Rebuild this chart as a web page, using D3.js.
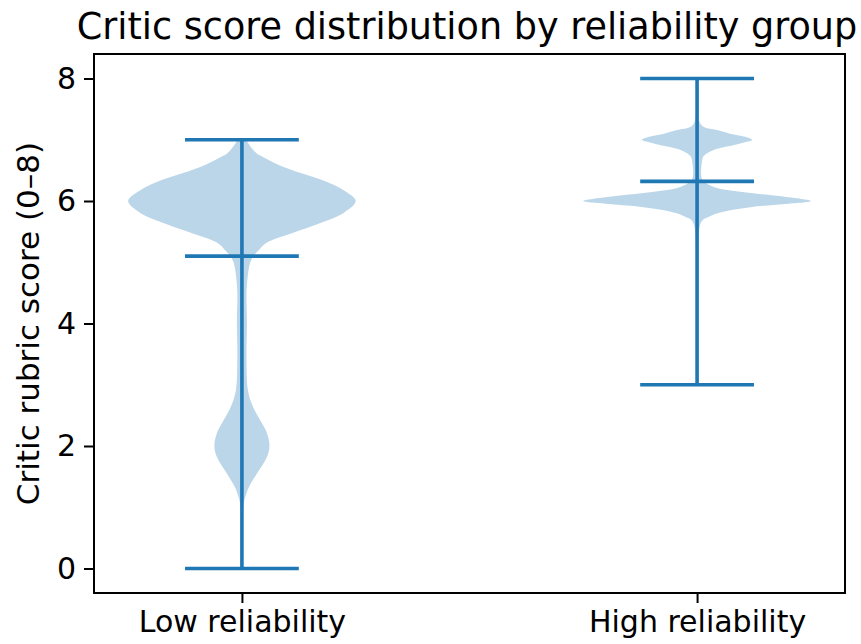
<!DOCTYPE html>
<html>
<head>
<meta charset="utf-8">
<script src="https://cdn.jsdelivr.net/npm/d3@7"></script>
<style>
  html, body { margin: 0; padding: 0; background: #fff; }
  svg { display: block; }
  text { font-family: "DejaVu Sans", sans-serif; fill: #000; }
</style>
</head>
<body>
<div id="chart"></div>
<script>
// Groups and their summary statistics
const groups = ["Low reliability", "High reliability"];
const scoreMin = [0, 3];
const scoreMax = [7, 8];
const scoreMean = [5.1, 6.32];

// Density profile of each group: score level and relative density (peak = 1)
const lowScores = [0.0, 0.5, 0.9, 1.1, 1.17, 1.33, 1.55, 1.82, 2.01, 2.21, 2.37, 2.64, 2.91, 3.45, 4.0, 4.5, 4.75, 4.98, 5.1, 5.2, 5.31, 5.48, 5.64, 5.8, 6.0, 6.18, 6.34, 6.5, 6.61, 6.72, 6.78, 6.94, 7.0];
const lowDensity = [0.0, 0.0, 0.005, 0.02, 0.03, 0.062, 0.132, 0.22, 0.242, 0.22, 0.176, 0.097, 0.053, 0.04, 0.044, 0.04, 0.05, 0.07, 0.1, 0.15, 0.21, 0.45, 0.69, 0.89, 1.0, 0.89, 0.71, 0.45, 0.3, 0.185, 0.128, 0.057, 0.04];

const highScores = [3.0, 3.5, 4.5, 5.3, 5.6, 5.69, 5.74, 5.8, 5.85, 5.9, 5.95, 6.0, 6.07, 6.13, 6.18, 6.23, 6.29, 6.35, 6.45, 6.6, 6.72, 6.78, 6.83, 6.88, 6.94, 7.0, 7.05, 7.1, 7.16, 7.21, 7.27, 7.4, 8.0];
const highDensity = [0.0, 0.003, 0.006, 0.01, 0.025, 0.05, 0.1, 0.18, 0.29, 0.47, 0.77, 1.0, 0.77, 0.47, 0.265, 0.147, 0.08, 0.045, 0.035, 0.04, 0.053, 0.088, 0.14, 0.24, 0.38, 0.485, 0.42, 0.29, 0.176, 0.06, 0.027, 0.01, 0.0];

const yTicks = [0, 2, 4, 6, 8];

const W = 861, H = 644;
const margin = { left: 94, right: 16, top: 54, bottom: 51 };
const violinWidth = 0.5;
const C0 = "#1f77b4";

const svg = d3.select("#chart").append("svg")
  .attr("width", W).attr("height", H);

const x = d3.scaleLinear().domain([0.675, 2.325]).range([margin.left, W - margin.right]);
const y = d3.scaleLinear().domain([-0.4, 8.4]).range([H - margin.bottom, margin.top]);

const profiles = [
  lowScores.map((s, i) => ({ s, d: lowDensity[i] })),
  highScores.map((s, i) => ({ s, d: highDensity[i] }))
];

// Violin bodies
profiles.forEach((prof, gi) => {
  const pos = gi + 1;
  const half = violinWidth / 2;
  const area = d3.area()
    .curve(d3.curveCatmullRom.alpha(0.5))
    .y(d => y(d.s))
    .x0(d => x(pos - d.d * half))
    .x1(d => x(pos + d.d * half));
  svg.append("path")
    .datum(prof)
    .attr("d", area)
    .attr("fill", C0)
    .attr("fill-opacity", 0.3)
    .attr("stroke", "none");
});

// Extremes, bars and means
const capHalf = violinWidth / 4;
groups.forEach((g, gi) => {
  const pos = gi + 1;
  const gLines = svg.append("g").attr("stroke", C0).attr("stroke-width", 3.6);
  gLines.append("line")
    .attr("x1", x(pos)).attr("x2", x(pos))
    .attr("y1", y(scoreMin[gi])).attr("y2", y(scoreMax[gi]));
  [scoreMin[gi], scoreMax[gi], scoreMean[gi]].forEach(v => {
    gLines.append("line")
      .attr("x1", x(pos - capHalf)).attr("x2", x(pos + capHalf))
      .attr("y1", y(v)).attr("y2", y(v));
  });
});

// Axes
const yAxis = d3.axisLeft(y).tickValues(yTicks).tickFormat(d3.format("d")).tickSize(10).tickPadding(8);
const xAxis = d3.axisBottom(x).tickValues([1, 2]).tickFormat((d, i) => groups[i]).tickSize(10).tickPadding(8);

const gy = svg.append("g").attr("transform", `translate(${margin.left},0)`).call(yAxis);
const gx = svg.append("g").attr("transform", `translate(0,${H - margin.bottom})`).call(xAxis);
[gy, gx].forEach(g => {
  g.select(".domain").remove();
  g.selectAll(".tick line").attr("stroke", "#000").attr("stroke-width", 2);
  g.selectAll(".tick text").attr("font-size", 30).attr("font-family", "DejaVu Sans").attr("fill", "#000");
});

// Frame
svg.append("rect")
  .attr("x", margin.left).attr("y", margin.top)
  .attr("width", W - margin.right - margin.left)
  .attr("height", H - margin.bottom - margin.top)
  .attr("fill", "none").attr("stroke", "#000").attr("stroke-width", 2);

// Title and axis label
svg.append("text")
  .attr("x", 467)
  .attr("y", 39)
  .attr("text-anchor", "middle")
  .attr("font-size", 36.6)
  .text("Critic score distribution by reliability group");

svg.append("text")
  .attr("transform", `translate(39,${(margin.top + H - margin.bottom) / 2}) rotate(-90)`)
  .attr("text-anchor", "middle")
  .attr("font-size", 31)
  .text("Critic rubric score (0–8)");
</script>
</body>
</html>
